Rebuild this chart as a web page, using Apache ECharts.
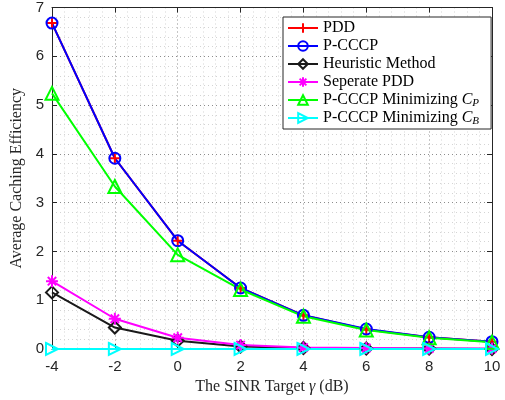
<!DOCTYPE html>
<html><head><meta charset="utf-8">
<script src="https://cdn.jsdelivr.net/npm/echarts@6/dist/echarts.min.js"></script>
<style>html,body{margin:0;padding:0;background:#fff}#c{width:505px;height:400px}</style>
</head><body><div id="c"></div>
<script>
const sinr = [-4, -2, 0, 2, 4, 6, 8, 10];
const pdd = [6.68, 3.91, 2.22, 1.25, 0.69, 0.40, 0.24, 0.15];
const pccp = [6.68, 3.91, 2.22, 1.25, 0.69, 0.41, 0.24, 0.15];
const heuristic = [1.16, 0.44, 0.17, 0.05, 0.02, 0.01, 0.01, 0.00];
const seperate = [1.39, 0.62, 0.23, 0.08, 0.03, 0.02, 0.01, 0.01];
const minCp = [5.24, 3.33, 1.93, 1.22, 0.67, 0.39, 0.23, 0.14];
const minCb = [0, 0, 0, 0, 0, 0, 0, 0];
const xTicks = [-4, -2, 0, 2, 4, 6, 8, 10];
const yTicks = [0, 1, 2, 3, 4, 5, 6, 7];

const FONT = 'Liberation Serif';
const SANS = 'Liberation Sans';
const plusPath = 'path://M0,5L10,5M5,0L5,10';
const starPath = 'path://M0,5L10,5M5,0L5,10M1.5,1.5L8.5,8.5M1.5,8.5L8.5,1.5';
const triRight = 'path://M0,0L10,5L0,10Z';

function mk(name, data, color, symbol, size) {
  return {
    name, type: 'line', data: sinr.map((x, i) => [x, data[i]]),
    symbol, symbolSize: size,
    lineStyle: { color, width: 2 },
    itemStyle: { color: 'rgba(0,0,0,0)', borderColor: color, borderWidth: 2 },
    emphasis: { disabled: true }, animation: false, z: 2
  };
}

const chart = echarts.init(document.getElementById('c'));
const axisCommon = {
  axisLine: { show: true, onZero: false, lineStyle: { color: '#262626', width: 1 } },
  axisTick: { show: true, inside: true, length: 5, lineStyle: { color: '#262626' } }
};
const majorGrid = { show: true, lineStyle: { color: '#8c8c8c', type: [1, 3], width: 1 } };
const minorGrid = { show: true, lineStyle: { color: '#d4d4d4', type: [1, 3], width: 1 } };
chart.setOption({
  animation: false,
  grid: { left: 52, right: 13, top: 6, bottom: 47 },
  legend: {
    orient: 'vertical', left: 283, top: 17,
    backgroundColor: '#fff', borderColor: '#262626', borderWidth: 1,
    padding: [2, 12, 2, 4], itemWidth: 30, itemHeight: 12, itemGap: 0,
    textStyle: { fontFamily: FONT, fontSize: 16, color: '#000', lineHeight: 18,
      rich: { i: { fontFamily: FONT, fontStyle: 'italic', fontSize: 16, lineHeight: 18 }, s: { fontFamily: FONT, fontStyle: 'italic', fontSize: 11, verticalAlign: 'bottom', padding: [6, 0, 0, 0] } } },
    formatter: function (n) {
      if (n === 'P-CCCP Minimizing C_P') return 'P-CCCP Minimizing {i|C}{s|P}';
      if (n === 'P-CCCP Minimizing C_B') return 'P-CCCP Minimizing {i|C}{s|B}';
      return n;
    },
    data: ['PDD', 'P-CCCP', 'Heuristic Method', 'Seperate PDD', 'P-CCCP Minimizing C_P', 'P-CCCP Minimizing C_B']
  },
  xAxis: [{
    type: 'value', min: -4, max: 10, interval: 2,
    ...axisCommon,
    axisLabel: { fontFamily: SANS, fontSize: 15, color: '#262626', margin: 10 },
    splitLine: majorGrid,
    minorTick: { show: true, splitNumber: 5, length: 0 },
    minorSplitLine: minorGrid,
    name: 'The SINR Target {g|γ} (dB)', nameLocation: 'middle', nameGap: 30,
    nameTextStyle: { fontFamily: FONT, fontSize: 16, color: '#262626', rich: { g: { fontFamily: FONT, fontStyle: 'italic', fontSize: 16, color: '#262626' } } }
  }, {
    type: 'value', min: -4, max: 10, interval: 2, position: 'top',
    ...axisCommon, axisLabel: { show: false }, splitLine: { show: false }
  }],
  yAxis: [{
    type: 'value', min: 0, max: 7, interval: 1,
    ...axisCommon,
    axisLabel: { fontFamily: SANS, fontSize: 15, color: '#262626', margin: 8 },
    splitLine: majorGrid,
    minorTick: { show: true, splitNumber: 5, length: 0 },
    minorSplitLine: minorGrid,
    name: 'Average Caching Efficiency', nameLocation: 'middle', nameGap: 25,
    nameTextStyle: { fontFamily: FONT, fontSize: 16, color: '#262626' }
  }, {
    type: 'value', min: 0, max: 7, interval: 1, position: 'right',
    ...axisCommon, axisLabel: { show: false }, splitLine: { show: false }
  }],
  series: [
    mk('PDD', pdd, '#ff0000', plusPath, 12),
    mk('P-CCCP', pccp, '#0000ff', 'circle', 11),
    mk('Heuristic Method', heuristic, '#1a1a1a', 'diamond', 12),
    mk('Seperate PDD', seperate, '#ff00ff', starPath, 12),
    mk('P-CCCP Minimizing C_P', minCp, '#00ff00', 'triangle', 13),
    mk('P-CCCP Minimizing C_B', minCb, '#00ffff', triRight, 12)
  ]
});
</script></body></html>
